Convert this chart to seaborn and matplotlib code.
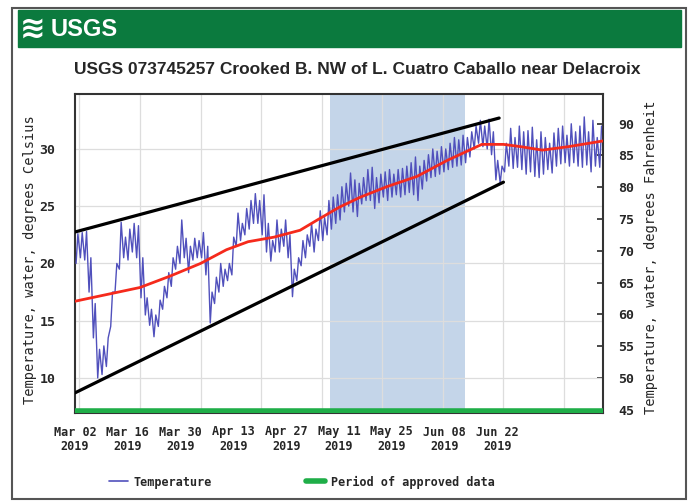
import numpy as np
import pandas as pd
import matplotlib
matplotlib.use("Agg")
import matplotlib.pyplot as plt
import matplotlib.dates as mdates
from matplotlib.patches import Rectangle
from matplotlib.lines import Line2D
import seaborn as sns

# ---- data (water temperature, deg C) ----
start = "2019-03-01"

# daily low / high of the 15-min record, Mar 01 .. Jun 30
daily_low = [
    20.0, 20.5, 20.3, 17.5, 13.5, 10.0, 10.3, 11.0, 14.5, 17.5,
    19.5, 20.5, 20.3, 21.0, 20.5, 17.0, 15.5, 14.6, 13.6, 14.5,
    16.0, 17.0, 18.0, 19.5, 20.0, 20.5, 19.2, 20.3, 20.5, 20.5,
    19.0, 14.8, 16.5, 17.5, 18.0, 18.5, 19.0, 21.5, 22.0, 22.5,
    23.0, 23.5, 23.5, 22.5, 21.0, 20.2, 21.0, 21.0, 21.5, 20.5,
    17.1, 18.5, 19.8, 20.5, 21.5, 21.0, 22.0, 22.0, 22.5, 23.0,
    23.5, 23.8, 24.5, 25.0, 24.5, 24.1, 25.2, 25.5, 25.5, 24.8,
    25.3, 25.8, 25.5, 25.8, 26.0, 25.8, 26.0, 26.2, 26.0, 25.5,
    26.5, 27.2, 27.5, 27.6, 27.8, 28.0, 28.2, 28.4, 28.5, 28.6,
    28.8, 29.3, 30.0, 30.5, 30.2, 30.0, 29.5, 27.3, 27.0, 28.0,
    28.5, 28.3, 28.4, 28.2, 27.8, 28.0, 27.6, 27.5, 27.8, 28.2,
    27.9, 28.5, 28.7, 28.8, 28.5, 28.8, 28.5, 28.4, 28.6, 28.0,
    28.5, 28.4,
]
daily_high = [
    22.6, 22.7, 22.8, 20.5, 16.5, 12.5, 12.8, 13.5, 17.5, 20.0,
    23.6, 22.3, 23.0, 23.5, 23.3, 20.5, 17.0, 16.0, 15.5, 16.8,
    18.0, 19.2, 20.5, 21.5, 23.8, 22.2, 21.5, 22.2, 22.0, 22.7,
    21.5, 17.5, 18.8, 20.0, 19.5, 20.0, 22.3, 24.4, 23.5, 24.8,
    25.5, 26.1, 25.5, 26.0, 23.5, 22.0, 23.8, 23.0, 23.8, 22.5,
    19.5, 20.5, 22.0, 22.5, 23.5, 23.0, 24.6, 24.0, 25.5, 25.8,
    26.0, 26.7, 27.0, 27.9, 27.3, 27.0, 27.5, 28.2, 28.4, 27.5,
    27.8, 28.0, 28.2, 27.8, 28.2, 28.3, 28.5, 28.8, 29.3, 28.5,
    29.0, 29.5, 30.0, 29.8, 30.2, 30.0, 30.5, 31.0, 30.8, 31.2,
    31.0, 31.5, 32.0, 32.5, 32.0, 32.6, 31.5, 29.0, 28.5, 30.5,
    31.8, 31.0, 32.0, 31.5, 31.6, 31.9, 30.8, 31.5, 31.0, 30.5,
    31.4, 31.8, 32.0, 31.2, 32.2, 31.5, 32.0, 32.8, 31.5, 32.5,
    31.0, 32.0,
]

# red smoothed curve
smooth_dates = ["2019-03-01", "2019-03-16", "2019-03-23", "2019-03-30", "2019-04-05",
                "2019-04-10", "2019-04-16", "2019-04-22", "2019-04-26", "2019-05-01",
                "2019-05-06", "2019-05-12", "2019-05-19", "2019-05-26", "2019-06-03",
                "2019-06-08", "2019-06-12", "2019-06-17", "2019-06-23", "2019-07-01"]
smooth_vals = [16.7, 17.9, 18.9, 20.0, 21.2, 21.9, 22.3, 22.9, 23.8, 24.9,
               25.8, 26.7, 27.6, 29.0, 30.4, 30.4, 30.2, 29.9, 30.2, 30.7]

# hand drawn black trend lines
upper_dates = ["2019-03-01", "2019-06-07"]
upper_vals = [22.75, 32.7]
lower_dates = ["2019-03-01", "2019-06-08"]
lower_vals = [8.7, 27.1]

shade_span = ["2019-04-29", "2019-05-30"]
approved_span = ["2019-03-01", "2019-07-01"]

tick_dates = pd.date_range("2019-03-02", periods=9, freq="14D")
c_ticks = [10, 15, 20, 25, 30]
f_ticks = [45, 50, 55, 60, 65, 70, 75, 80, 85, 90]

title = "USGS 073745257 Crooked B. NW of L. Cuatro Caballo near Delacroix"

# ---- colours ----
blue = "#5050bc"
red = "#f52a1c"
green = "#1fae48"
usgs_green = "#0b7a3e"
shade = "#c4d5e9"

sns.set_theme(style="white")
plt.rcParams["font.family"] = ["DejaVu Sans Mono"]
plt.rcParams["font.weight"] = "bold"

# build the 15-min style trace from the daily lows/highs
days = pd.date_range(start, periods=len(daily_low), freq="D")
rows = []
for d, lo, hi in zip(days, daily_low, daily_high):
    rows.append((d + pd.Timedelta(hours=6), lo))
    rows.append((d + pd.Timedelta(hours=16), hi))
trace = pd.DataFrame(rows, columns=["time", "temp"])
smooth = pd.DataFrame({"time": pd.to_datetime(smooth_dates), "temp": smooth_vals})

fig = plt.figure(figsize=(6.91, 5.04), dpi=100)
ax = fig.add_axes([75 / 691, 1 - 413 / 504, 528 / 691, 319 / 504])

ax.axvspan(pd.Timestamp(shade_span[0]), pd.Timestamp(shade_span[1]),
           color=shade, lw=0, zorder=0)
sns.lineplot(data=trace, x="time", y="temp", color=blue, lw=1.0, ax=ax, zorder=3)
sns.lineplot(data=smooth, x="time", y="temp", color=red, lw=2.0, ax=ax, zorder=4)
ax.plot(pd.to_datetime(upper_dates), upper_vals, color="black", lw=2.3, zorder=5)
ax.plot(pd.to_datetime(lower_dates), lower_vals, color="black", lw=2.3, zorder=5)
ax.plot(pd.to_datetime(approved_span), [0.007, 0.007], color=green, lw=4,
        transform=ax.get_xaxis_transform(), zorder=6, solid_capstyle="butt")

t0 = mdates.date2num(pd.Timestamp(start))
ax.set_xlim(t0, t0 + 122)
ax.set_ylim(6.94, 34.8)
ax.set_xlabel("")
ax.set_ylabel("")

# grid at the date ticks
ax.set_xticks(mdates.date2num(tick_dates))
ax.tick_params(axis="x", length=0, labelbottom=False)
ax.set_yticks(c_ticks)
ax.tick_params(axis="y", length=0, pad=14, labelsize=9.5)
ax.grid(True, color="#dddddd", lw=0.9)
ax.set_axisbelow(True)
for s in ax.spines.values():
    s.set_color("#333333")
    s.set_linewidth(1.5)

# the date labels in the original sit on a narrower row than the plot
squeeze = 3.77 / 4.328
def to_label(x):
    return t0 + 0.99 + (x - t0) / squeeze
def from_label(d):
    return t0 + (d - t0 - 0.99) * squeeze

secx = ax.secondary_xaxis("bottom", functions=(to_label, from_label))
secx.set_xticks(mdates.date2num(tick_dates))
secx.xaxis.set_major_formatter(mdates.DateFormatter("%b %d\n%Y"))
secx.tick_params(length=0, pad=9, labelsize=8.5)
secx.spines["bottom"].set_visible(False)

secy = ax.secondary_yaxis("right", functions=(lambda c: c * 9 / 5 + 32,
                                              lambda f: (f - 32) * 5 / 9))
secy.set_yticks(f_ticks)
secy.tick_params(direction="in", length=4, pad=11, labelsize=9.5, color="#333333")
secy.spines["right"].set_visible(False)

ax.set_ylabel("Temperature, water, degrees Celsius", fontsize=9.8)
ax.yaxis.set_label_coords(-0.072, 0.48)
secy.set_ylabel("Temperature, water, degrees Fahrenheit", fontsize=9.8)
secy.yaxis.set_label_coords(1.078, 0.487, transform=ax.transAxes)

# header banner and frame
fig.patches.append(Rectangle((12 / 691, 5 / 504), 674 / 691, 491 / 504, fill=False,
                             edgecolor="#555555", lw=1.5, transform=fig.transFigure))
fig.patches.append(Rectangle((18 / 691, 1 - 47 / 504), 663 / 691, 37 / 504,
                             color=usgs_green, transform=fig.transFigure))
fig.text(20 / 691, 1 - 29 / 504, "\u224b", color="white", fontsize=22,
         family="DejaVu Sans", weight="bold", va="center")
fig.text(51 / 691, 1 - 29 / 504, "USGS", color="white", fontsize=17,
         family="Liberation Sans", weight="bold", va="center")
fig.text(357 / 691, 1 - 70 / 504, title, fontsize=12.5, ha="center", va="center",
         family="Liberation Sans", weight="bold")

handles = [Line2D([], [], color=blue, lw=1.2), Line2D([], [], color=green, lw=4)]
fig.legend(handles, ["Temperature", "Period of approved data"], loc="center",
           bbox_to_anchor=(302 / 691, 1 - 482 / 504), ncol=2, frameon=False,
           fontsize=8.5, handlelength=1.6, handletextpad=0.5, columnspacing=8)

fig.savefig("out.png", dpi=100)
